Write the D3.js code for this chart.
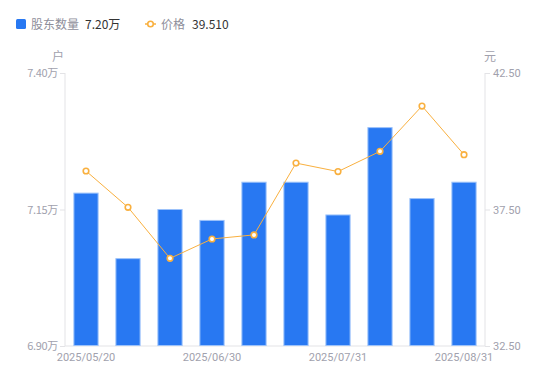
<!DOCTYPE html>
<html><head><meta charset="utf-8">
<script src="https://cdn.jsdelivr.net/npm/d3@7/dist/d3.min.js"></script>
<style>body{margin:0;background:#fff;}svg{display:block;font-family:"Noto Sans CJK SC","Noto Sans",sans-serif;}</style>
</head><body><svg id="c" width="550" height="381"></svg>
<script>
const categories = ["2025/05/20","2025/05/31","2025/06/20","2025/06/30","2025/07/10","2025/07/20","2025/07/31","2025/08/10","2025/08/20","2025/08/31"];
const holders = [7.18, 7.06, 7.15, 7.13, 7.20, 7.20, 7.14, 7.30, 7.17, 7.20];
const prices = [38.91, 37.58, 35.71, 36.42, 36.57, 39.20, 38.89, 39.63, 41.29, 39.51];
const leftTicks = [6.90, 7.15, 7.40];
const rightTicks = [32.50, 37.50, 42.50];
const shownDates = ["2025/05/20","2025/06/30","2025/07/31","2025/08/31"];

const svg = d3.select("#c");
const L = 65, R = 485, T = 73, B = 346;
const axisColor = "#e3e3e6", labelColor = "#a1a1ad";
const barColor = "#2878F2", lineColor = "#F9B03F";

const x = d3.scaleBand().domain(categories).range([L, R]).paddingInner(0.4).paddingOuter(0.2);
const yL = d3.scaleLinear().domain([6.90, 7.40]).range([B, T]);
const yR = d3.scaleLinear().domain([32.50, 42.50]).range([B, T]);

// axes
const gl = svg.append("g").attr("transform", `translate(${L},0)`)
  .call(d3.axisLeft(yL).tickValues(leftTicks).tickSize(5).tickPadding(2).tickFormat(d => d.toFixed(2) + "万"));
const gr = svg.append("g").attr("transform", `translate(${R},0)`)
  .call(d3.axisRight(yR).tickValues(rightTicks).tickSize(5).tickPadding(3).tickFormat(d => d.toFixed(2)));
const gb = svg.append("g").attr("transform", `translate(0,${B})`)
  .call(d3.axisBottom(x).tickValues(shownDates).tickSize(0).tickPadding(7));
[gl, gr, gb].forEach(g => {
  g.select(".domain").attr("stroke", axisColor);
  g.selectAll(".tick line").attr("stroke", axisColor);
  g.selectAll(".tick text").attr("fill", labelColor).style("font-size", "11px").style("font-family", "Roboto, 'Liberation Sans', sans-serif");
});
gb.select(".domain").attr("d", `M${L},0H${R}`);
gl.select(".domain").attr("d", `M0,${B}V${T}`);
gr.select(".domain").attr("d", `M0,${B}V${T}`);
gl.selectAll(".tick text").style("font-family", "'Noto Sans CJK SC', Roboto, sans-serif").attr("letter-spacing", "-0.3");

// unit labels
svg.append("text").attr("x", 58).attr("y", 61).attr("text-anchor", "middle").attr("fill", labelColor).style("font-size", "12px").text("户");
svg.append("text").attr("x", 490).attr("y", 61).attr("text-anchor", "middle").attr("fill", labelColor).style("font-size", "12px").text("元");

// bars
svg.append("g").selectAll("rect").data(holders).join("rect")
  .attr("x", (d, i) => x(categories[i]) + 0.5)
  .attr("y", d => yL(d))
  .attr("width", x.bandwidth() - 1)
  .attr("height", d => B - yL(d) - 0.5)
  .attr("fill", barColor).attr("stroke", "#9cc2fa").attr("stroke-width", 1);

// line
const cx = (i) => x(categories[i]) + x.bandwidth() / 2;
svg.append("path").datum(prices)
  .attr("fill", "none").attr("stroke", lineColor).attr("stroke-width", 1)
  .attr("d", d3.line().x((d, i) => cx(i)).y(d => yR(d)));
svg.append("g").selectAll("circle").data(prices).join("circle")
  .attr("cx", (d, i) => cx(i)).attr("cy", d => yR(d)).attr("r", 2.8)
  .attr("fill", "#fff").attr("stroke", lineColor).attr("stroke-width", 1.6);

// legend
const lg = svg.append("g").style("font-size", "12px");
lg.append("rect").attr("x", 16).attr("y", 19).attr("width", 10).attr("height", 10).attr("rx", 1.5).attr("fill", barColor);
lg.append("text").attr("x", 31).attr("y", 29).attr("fill", "#8e8e9a").text("股东数量");
lg.append("text").attr("x", 85).attr("y", 29).attr("fill", "#333").text(d3.format(".2f")(holders[holders.length - 1]) + "万");
lg.append("line").attr("x1", 145).attr("x2", 156).attr("y1", 24).attr("y2", 24).attr("stroke", lineColor).attr("stroke-width", 1.5);
lg.append("circle").attr("cx", 150.5).attr("cy", 24).attr("r", 2.8).attr("fill", "#fff").attr("stroke", lineColor).attr("stroke-width", 1.6);
lg.append("text").attr("x", 161).attr("y", 29).attr("fill", "#8e8e9a").text("价格");
lg.append("text").attr("x", 192).attr("y", 29).attr("fill", "#333").text(d3.format(".3f")(prices[prices.length - 1]));
</script></body></html>
